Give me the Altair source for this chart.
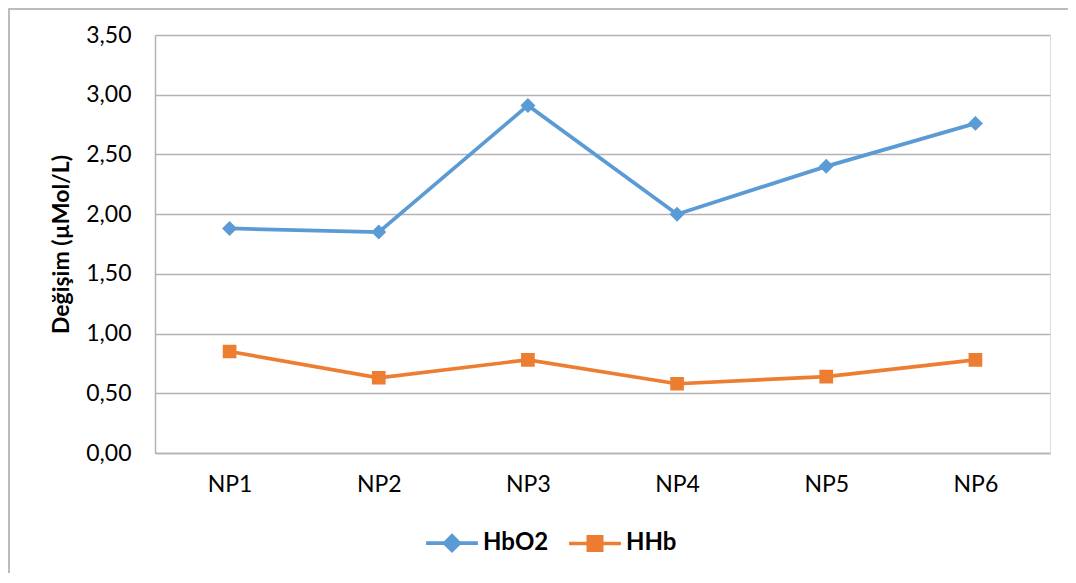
import altair as alt
import pandas as pd

categories = ["NP1", "NP2", "NP3", "NP4", "NP5", "NP6"]
hbo2 = [1.88, 1.85, 2.91, 2.00, 2.40, 2.76]
hhb = [0.85, 0.63, 0.78, 0.58, 0.64, 0.78]
series_names = ["HbO2", "HHb"]
series_colors = ["#5B9BD5", "#ED7D31"]
y_ticks = [0, 0.5, 1.0, 1.5, 2.0, 2.5, 3.0, 3.5]
y_title = "Değişim (µMol/L)"

df = pd.DataFrame({
    "cat": categories * 2,
    "value": hbo2 + hhb,
    "series": [series_names[0]] * len(categories) + [series_names[1]] * len(categories),
})

FONT = "Lato"
GRID = "#B3B3B3"

diamond_path = "M-4.1,0H4.1M0,-1.15L1.15,0L0,1.15L-1.15,0Z"
square_path = "M-4.1,0H4.1M-1.05,-1.05H1.05V1.05H-1.05Z"

x_enc = alt.X(
    "cat:N", sort=categories,
    scale=alt.Scale(type="point", padding=0.5),
    axis=alt.Axis(title=None, labelAngle=0, ticks=False, tickSize=0,
                  domainColor=GRID, domainWidth=1.5, labelPadding=20,
                  labelFontSize=23, labelColor="#000000", labelFont=FONT, grid=False),
)
y_enc = alt.Y(
    "value:Q",
    scale=alt.Scale(domain=[0, 3.5], nice=False),
    axis=alt.Axis(values=y_ticks, title=y_title,
                  labelExpr="replace(format(datum.value, '.2f'), '.', ',')",
                  ticks=False, tickSize=0, labelPadding=24,
                  labelFont=FONT, labelFontSize=23, labelColor="#000000",
                  titleFont=FONT, titleFontSize=23, titleFontWeight="bold",
                  titleColor="#000000", titlePadding=12,
                  domainColor=GRID, domainWidth=1.5,
                  gridColor=GRID, gridWidth=1.3),
)

legend = alt.Legend(
    title=None, orient="none", legendX=285, legendY=496, direction="horizontal",
    symbolSize=160, symbolStrokeWidth=3.7, labelFont=FONT, labelFontWeight="bold",
    labelFontSize=24, labelColor="#000000", labelOffset=19, columnPadding=12, padding=0,
)
color_scale = alt.Scale(domain=series_names, range=series_colors)

lines = alt.Chart(df).mark_line(strokeWidth=3.7).encode(
    x=x_enc, y=y_enc,
    stroke=alt.Stroke("series:N", scale=color_scale, legend=legend),
)

points = alt.Chart(df).mark_point(filled=True, size=170, strokeWidth=0, opacity=1).encode(
    x=x_enc, y=y_enc,
    fill=alt.Fill("series:N", scale=color_scale, legend=legend),
    stroke=alt.Stroke("series:N", scale=color_scale, legend=legend),
    shape=alt.Shape("series:N", scale=alt.Scale(domain=series_names, range=[diamond_path, square_path]), legend=legend),
)

frame = alt.Chart(pd.DataFrame({"f": [0]})).mark_rect(fill=None, stroke="#A6A6A6", strokeWidth=1.5).encode(
    x=alt.value(-146), x2=alt.value(1000), y=alt.value(-26), y2=alt.value(700),
)

chart = alt.layer(frame, lines, points).properties(
    width=895, height=418,
    autosize=alt.AutoSizeParams(type="none"),
    padding={"left": 147, "top": 27, "right": 18, "bottom": 120},
).configure_view(stroke=None).configure(background="white")

chart.save("out.html", embed_options={"renderer": "svg", "actions": False})
